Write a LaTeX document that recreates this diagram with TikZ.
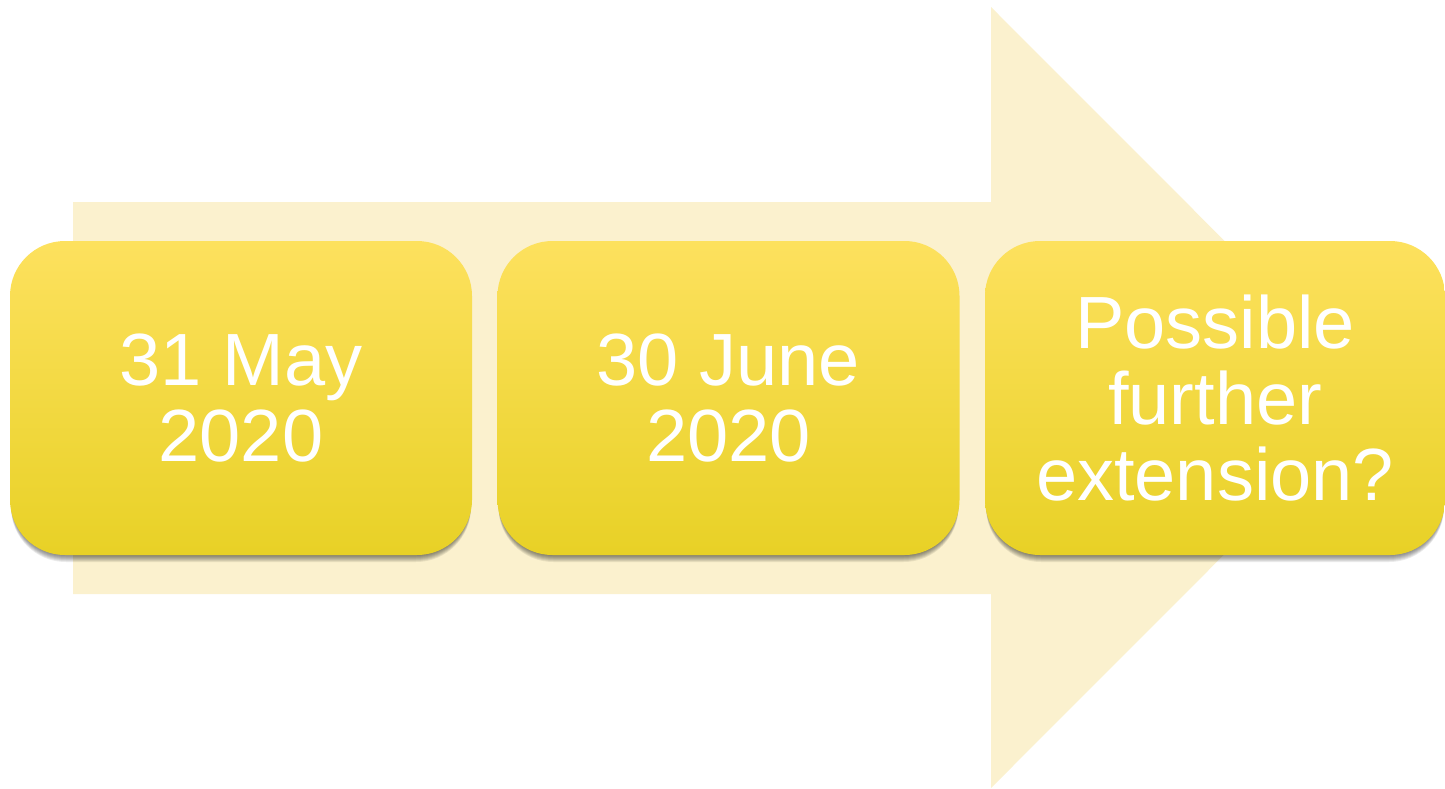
\documentclass[tikz,border=0pt]{standalone}
\usepackage{fontspec}
\setmainfont{Liberation Sans}
\definecolor{arrowfill}{RGB}{251,241,206}
\definecolor{boxtop}{RGB}{253,225,94}
\definecolor{boxmid}{RGB}{254,227,56}
\definecolor{boxbot}{RGB}{232,209,38}
\tikzset{
  datebox/.style={minimum width=462pt, minimum height=314pt, rounded corners=55pt,
    top color=boxtop, middle color=boxmid, bottom color=boxbot, draw=none,
    text=white, align=center, inner sep=0pt,
    font=\fontsize{74}{76}\selectfont},
  shadowlayer/.style={fill=black, opacity=0.08, draw=none}
}
\begin{document}
\begin{tikzpicture}[x=1pt,y=-1pt]
\useasboundingbox (0,0) rectangle (1445,788);
% big arrow
\fill[arrowfill] (73,202) -- (991,202) -- (991,7) -- (1381,397.5) -- (991,788) -- (991,594) -- (73,594) -- cycle;
% soft shadows below the boxes
\foreach \cx/\w in {241/462, 728.5/462, 1215/460}{
  \foreach \e in {7,6,5,4,3,2,1}{
    \fill[shadowlayer, rounded corners=55pt]
      (\cx-\w/2+1, 400) rectangle (\cx+\w/2-1, 555+\e);
  }
}
\node[datebox] (b1) at (241,398) {31 May\\2020};
\node[datebox] (b2) at (728.5,398) {30 June\\2020};
\node[datebox, minimum width=460pt] (b3) at (1215,398) {Possible\\further\\extension?};
\end{tikzpicture}
\end{document}
